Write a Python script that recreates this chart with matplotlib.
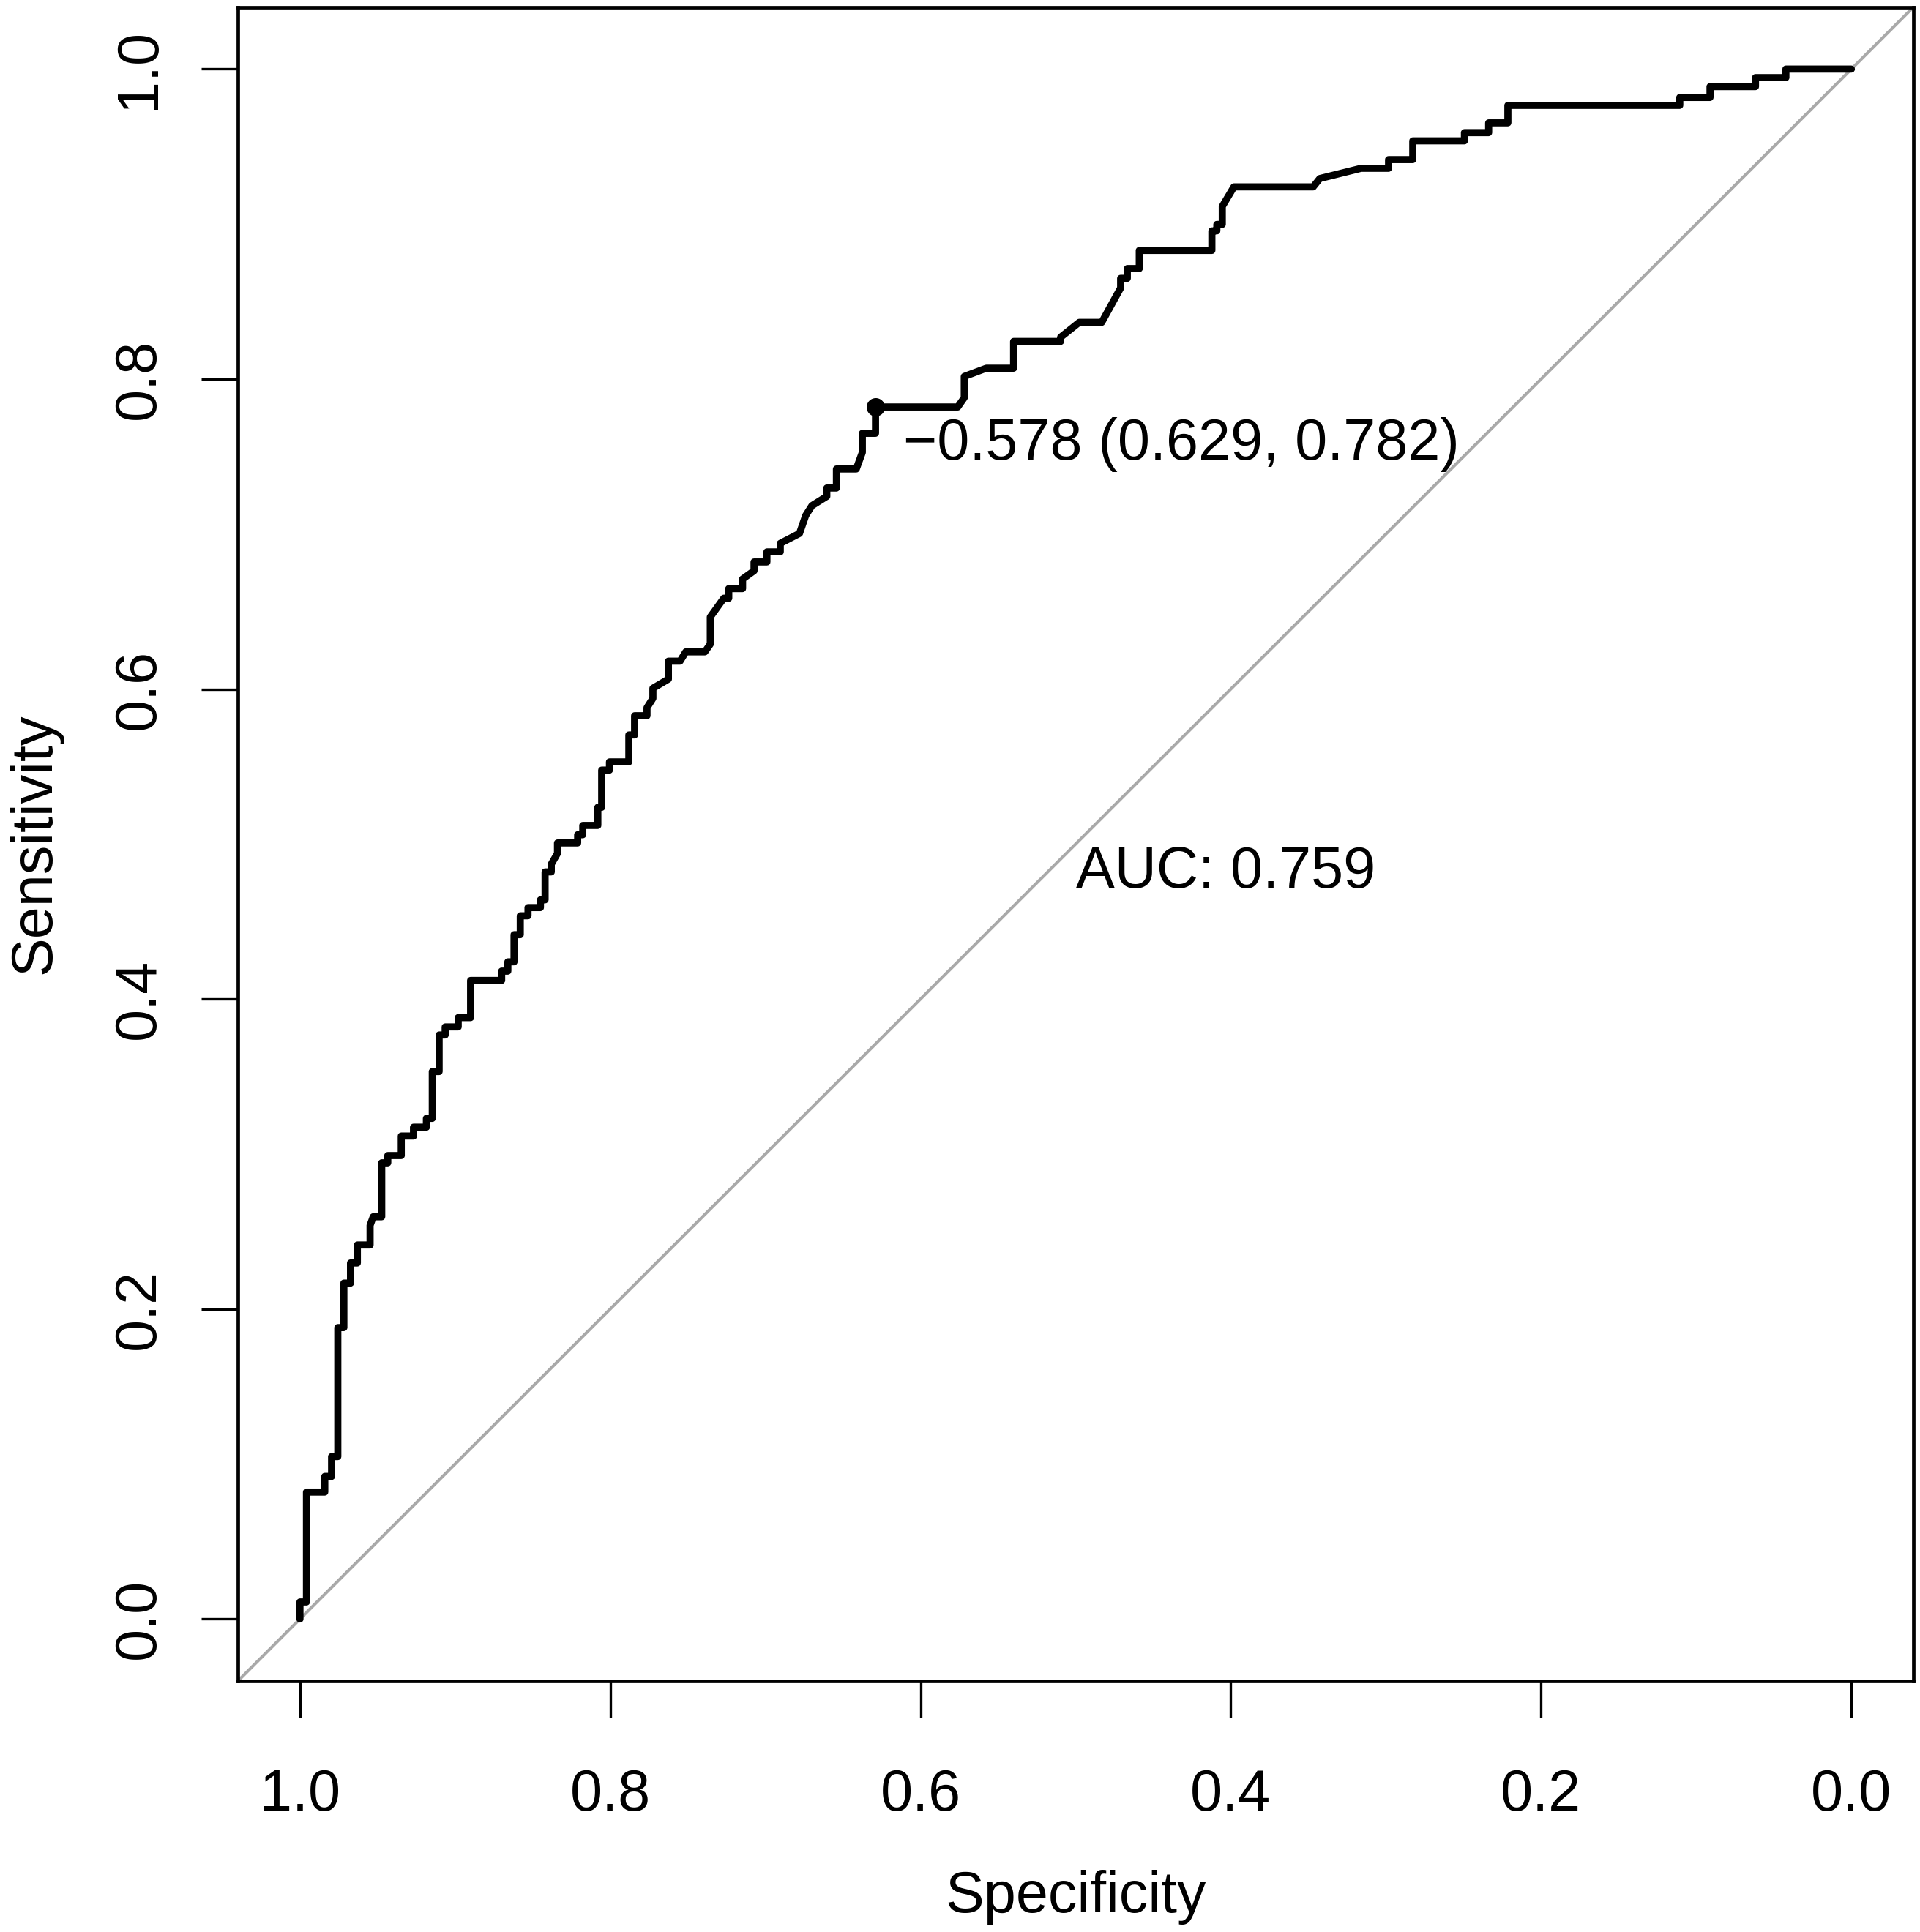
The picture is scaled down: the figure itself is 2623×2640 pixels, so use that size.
import matplotlib
matplotlib.use("Agg")
import matplotlib.pyplot as plt

# ROC curve points (specificity, sensitivity)
specificity = [1.0, 1.0, 0.9958, 0.9958, 0.984, 0.984, 0.9796, 0.9796, 0.9756, 0.9756,
               0.9717, 0.9717, 0.9674, 0.9674, 0.963, 0.963, 0.9548, 0.9548, 0.9528, 0.9473,
               0.9473, 0.9434, 0.9434, 0.9347, 0.9347, 0.9268, 0.9268, 0.9185, 0.9185, 0.9147,
               0.9147, 0.9103, 0.9103, 0.9064, 0.9064, 0.898, 0.898, 0.890, 0.890, 0.870,
               0.870, 0.866, 0.866, 0.862, 0.862, 0.858, 0.858, 0.853, 0.853, 0.845,
               0.845, 0.842, 0.842, 0.838, 0.838, 0.834, 0.834, 0.821, 0.821, 0.8177,
               0.8177, 0.808, 0.808, 0.8055, 0.8055, 0.8005, 0.8005, 0.788, 0.788, 0.7843,
               0.7843, 0.7763, 0.7763, 0.7725, 0.7725, 0.7625, 0.7625, 0.755, 0.7513, 0.739,
               0.7355, 0.7355, 0.7268, 0.7236, 0.7236, 0.7147, 0.7147, 0.7073, 0.7073, 0.699,
               0.699, 0.6904, 0.6904, 0.678, 0.674, 0.670, 0.6604, 0.6604, 0.6542, 0.6542,
               0.6414, 0.6375, 0.6375, 0.629, 0.629, 0.576, 0.5718, 0.5718, 0.5576, 0.54,
               0.54, 0.5097, 0.5097, 0.4977, 0.4832, 0.471, 0.471, 0.4667, 0.4667, 0.459,
               0.459, 0.4122, 0.4122, 0.409, 0.409, 0.4055, 0.4055, 0.398, 0.3469, 0.3426,
               0.316, 0.2983, 0.2983, 0.2827, 0.2827, 0.2494, 0.2494, 0.2338, 0.2338, 0.2214,
               0.2214, 0.1106, 0.1106, 0.0911, 0.0911, 0.0618, 0.0618, 0.0422, 0.0422, 0.0]
sensitivity = [0.0, 0.011, 0.011, 0.0819, 0.0819, 0.092, 0.092, 0.1048, 0.1048, 0.188,
               0.188, 0.2167, 0.2167, 0.2297, 0.2297, 0.2413, 0.2413, 0.254, 0.2595, 0.2595,
               0.2943, 0.2943, 0.299, 0.299, 0.3116, 0.3116, 0.3173, 0.3173, 0.323, 0.323,
               0.3532, 0.3532, 0.3768, 0.3768, 0.382, 0.382, 0.388, 0.388, 0.412, 0.412,
               0.418, 0.418, 0.424, 0.424, 0.4415, 0.4415, 0.4537, 0.4537, 0.459, 0.459,
               0.464, 0.464, 0.482, 0.482, 0.487, 0.494, 0.5007, 0.5007, 0.506, 0.506,
               0.512, 0.512, 0.5237, 0.5237, 0.5477, 0.5477, 0.553, 0.553, 0.5704, 0.5704,
               0.5828, 0.5828, 0.588, 0.594, 0.6005, 0.6064, 0.618, 0.618, 0.624, 0.624,
               0.629, 0.6465, 0.6586, 0.6586, 0.6648, 0.6648, 0.671, 0.6763, 0.682, 0.682,
               0.6885, 0.6885, 0.694, 0.7004, 0.712, 0.7183, 0.7243, 0.7297, 0.7297, 0.742,
               0.742, 0.7527, 0.765, 0.765, 0.782, 0.782, 0.788, 0.8017, 0.807, 0.807,
               0.8243, 0.8243, 0.827, 0.8366, 0.8366, 0.8588, 0.865, 0.865, 0.8713, 0.8713,
               0.883, 0.883, 0.8956, 0.8956, 0.8998, 0.8998, 0.9114, 0.924, 0.924, 0.9294,
               0.936, 0.936, 0.9416, 0.9416, 0.9537, 0.9537, 0.959, 0.959, 0.9653, 0.9653,
               0.9766, 0.9766, 0.9817, 0.9817, 0.9887, 0.9887, 0.9945, 0.9945, 1.0, 1.0]

best_threshold = -0.578
best_spec = 0.629
best_sens = 0.782
auc_value = 0.759

tick_values = [1.0, 0.8, 0.6, 0.4, 0.2, 0.0]
tick_labels = ["1.0", "0.8", "0.6", "0.4", "0.2", "0.0"]

FONT = ["Liberation Sans", "DejaVu Sans"]
FS = 57
plt.rcParams["font.family"] = FONT

fig = plt.figure(figsize=(26.23, 26.40), dpi=100)
ax = fig.add_axes([325 / 2623, 1 - 2297 / 2640, (2614 - 325) / 2623, (2297 - 9.7) / 2640])

ax.set_xlim(1.04, -0.04)
ax.set_ylim(-0.04, 1.04)

# identity line
ax.plot([1.04, -0.04], [-0.04, 1.04], color="#A9A9A9", lw=3.0, zorder=1)

# ROC curve
ax.plot(specificity, sensitivity, color="black", lw=7.0,
        solid_joinstyle="round", solid_capstyle="round", zorder=3)

# best threshold point
ax.plot([best_spec], [best_sens], "o", color="black", markersize=17, zorder=4)
ax.annotate(f"\u2212{abs(best_threshold):.3f} ({best_spec:.3f}, {best_sens:.3f})",
            xy=(best_spec, 0.748), xycoords="data",
            xytext=(27, 0), textcoords="offset points",
            ha="left", va="baseline", fontsize=FS, color="black")

ax.text(0.5, 0.472, f"AUC: {auc_value:.3f}", ha="left", va="baseline",
        fontsize=FS, color="black")

ax.set_xticks(tick_values)
ax.set_xticklabels(tick_labels)
ax.set_yticks(tick_values)
ax.set_yticklabels(tick_labels, rotation=90, va="center")

ax.tick_params(axis="both", direction="out", length=36, width=2.4,
               labelsize=FS, colors="black")
ax.tick_params(axis="x", pad=50)
ax.tick_params(axis="y", pad=34)

for s in ax.spines.values():
    s.set_linewidth(3.4)
    s.set_color("black")

fig.text(1469.5 / 2623, 1 - 2613 / 2640, "Specificity", ha="center", va="baseline",
         fontsize=FS)
fig.text(68 / 2623, 1 - 1153 / 2640, "Sensitivity", ha="center", va="baseline",
         rotation=90, rotation_mode="anchor", fontsize=FS)

fig.savefig("out.png", dpi=100, facecolor="white")
